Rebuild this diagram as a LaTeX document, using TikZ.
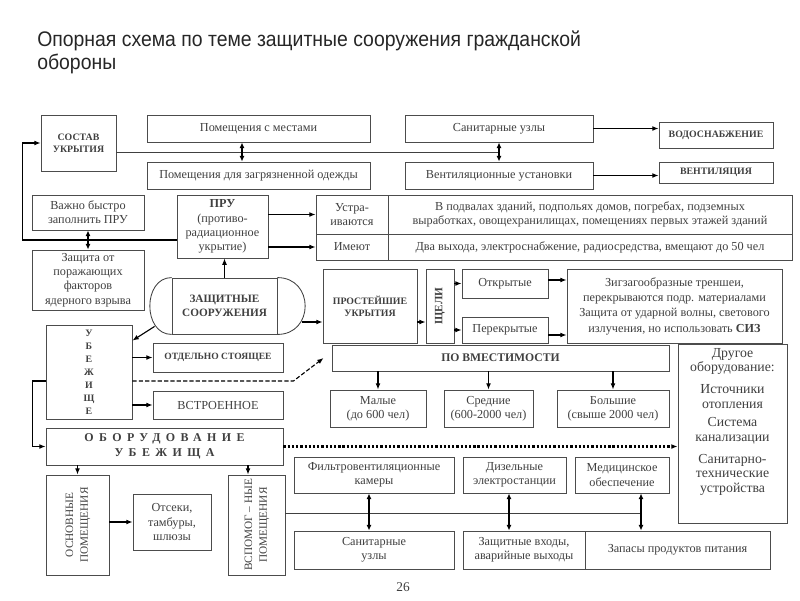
\documentclass[tikz,border=0pt]{standalone}
\usepackage{fontspec}
\setmainfont{Liberation Serif}
\newfontfamily\titlefont[FakeStretch=0.92]{Liberation Sans}
\usetikzlibrary{arrows.meta,calc}

\newcommand{\spaced}[1]{{\addfontfeatures{LetterSpace=45}#1}}

\tikzset{
  box/.style={draw=black!70, line width=0.6pt, align=center, inner sep=1pt, text=black!75},
  wh/.style 2 args={minimum width=#1*0.025cm, minimum height=#2*0.025cm},
  capbold/.style={font=\bfseries\fontsize{7}{8.5}\selectfont},
  link/.style={draw=black!75, line width=0.6pt},
  arr/.style={-{Latex[length=4.5pt,width=3.5pt]}, line width=0.8pt},
  darr/.style={{Latex[length=4pt,width=3.5pt]}-{Latex[length=4pt,width=3.5pt]}, line width=0.8pt},
}

\begin{document}
\begin{tikzpicture}[x=0.025cm, y=-0.025cm, font=\fontsize{8.7}{10.2}\selectfont]
\fill[white] (0,0) rectangle (800,600);
\useasboundingbox (0,0) rectangle (800,600);

% Title
\node[anchor=north west, align=left, inner sep=0pt, text=black!85,
      font=\titlefont\fontsize{15}{15.8}\selectfont] (title) at (37,31)
  {Опорная схема по теме защитные сооружения гражданской\\обороны};

% Composition of the shelter
\node[box, capbold, wh={75}{56}] (sostav) at (78.5,143) {СОСТАВ\\УКРЫТИЯ};
\node[box, wh={223}{27}] (mesta) at (258.5,128.5) {Помещения с местами};
\node[box, wh={223}{27}] (odezhda) at (258.5,175.5) {Помещения для загрязненной одежды};
\node[box, wh={188}{27}] (sanuz) at (499,128.5) {Санитарные узлы};
\node[box, wh={188}{27}] (vent) at (499,175.5) {Вентиляционные установки};
\node[box, capbold, wh={114}{26}] (vodo) at (716,135) {ВОДОСНАБЖЕНИЕ};
\node[box, capbold, wh={114}{21}] (ventil) at (716,172.5) {ВЕНТИЛЯЦИЯ};

% PRU
\node[box, wh={112}{35}] (zapolnit) at (88,212.5) {Важно быстро\\заполнить ПРУ};
\node[box, wh={112}{60}] (zashchita) at (88,280) {Защита от\\поражающих\\факторов\\ядерного взрыва};
\node[box, wh={91}{63}] (pru) at (222.5,226.5) {\textbf{ПРУ}\\(противо-\\радиационное\\укрытие)};
\node[box, wh={72}{39}] (ustr) at (352,214.5) {Устра-\\иваются};
\node[box, wh={404}{39}] (podval) at (590,214.5) {В подвалах зданий, подпольях домов, погребах, подземных\\выработках, овощехранилищах, помещениях первых этажей зданий};
\node[box, wh={72}{26}] (imeyut) at (352,247) {Имеют};
\node[box, wh={404}{26}] (dva) at (590,247) {Два выхода, электроснабжение, радиосредства, вмещают до 50 чел};

% Protective structures
\node[box, wh={105}{56}, font=\bfseries\fontsize{8}{10}\selectfont] (zs) at (224.5,306) {ЗАЩИТНЫЕ\\СООРУЖЕНИЯ};
\draw[link] (zs.north west) .. controls +(-29,0) and +(-29,0) .. (zs.south west);
\draw[link] (zs.north east) .. controls +(37,0) and +(37,0) .. (zs.south east);

% Simplest shelters
\node[box, capbold, wh={94}{74}] (prost) at (370,306) {ПРОСТЕЙШИЕ\\УКРЫТИЯ};
\node[box, wh={28}{74}, font=\bfseries\fontsize{8}{9}\selectfont] (shcheli) at (440,306) {\rotatebox{90}{ЩЕЛИ}};
\node[box, wh={86}{29}] (otkr) at (505,283.5) {Открытые};
\node[box, wh={86}{26}] (perekr) at (505,330) {Перекрытые};
\node[box, wh={215}{74}, font=\fontsize{8.7}{10.9}\selectfont] (zigzag) at (674.5,306) {Зигзагообразные треншеи,\\перекрываются подр. материалами\\Защита от ударной волны, светового\\излучения, но использовать \textbf{СИЗ}};

% Shelter
\node[box, wh={86}{94}, font=\bfseries\fontsize{7}{9.3}\selectfont] (ubezh) at (89,372) {У\\Б\\Е\\Ж\\И\\Щ\\Е};
\node[box, wh={130}{29}, font=\bfseries\fontsize{6.8}{8}\selectfont] (otdel) at (218,357.5) {ОТДЕЛЬНО СТОЯЩЕЕ};
\node[box, wh={130}{28}] (vstr) at (218,405) {ВСТРОЕННОЕ};

% By capacity
\node[box, wh={337}{26}, font=\bfseries\fontsize{8.3}{10}\selectfont] (vmest) at (500.5,358) {ПО ВМЕСТИМОСТИ};
\node[box, wh={96}{37}] (malye) at (378,408.5) {Малые\\(до 600 чел)};
\node[box, wh={89}{37}] (srednie) at (488.5,408.5) {Средние\\(600-2000 чел)};
\node[box, wh={112}{37}] (bolshie) at (613,408.5) {Большие\\(свыше 2000 чел)};

% Other equipment
\node[box, wh={109}{179}] (drugoe) at (732.5,433.5) {};
\node[anchor=north, align=center, inner sep=3pt, text=black!75, font=\fontsize{9.8}{10.4}\selectfont] (drugoetxt) at (drugoe.north)
  {Другое\\оборудование:\\[5pt]Источники\\отопления\\[3pt]Система\\канализации\\[5pt]Санитарно-\\технические\\устройства};

% Equipment of the shelter
\node[box, wh={237}{37}, font=\bfseries\fontsize{8.5}{10.7}\selectfont] (oborud) at (164.5,446.5) {\spaced{ОБОРУДОВАНИЕ}\\\spaced{УБЕЖИЩА}};
\node[box, wh={63}{100}, font=\fontsize{8}{10.5}\selectfont] (osnov) at (77.5,525) {\rotatebox{90}{\begin{tabular}{@{}c@{}}ОСНОВНЫЕ\\ПОМЕЩЕНИЯ\end{tabular}}};
\node[box, wh={78}{56}] (otseki) at (172,522) {Отсеки,\\тамбуры,\\шлюзы};
\node[box, wh={57}{100}, font=\fontsize{8}{10.5}\selectfont] (vspom) at (256.5,525) {\rotatebox{90}{\begin{tabular}{@{}c@{}}ВСПОМОГ – НЫЕ\\ПОМЕЩЕНИЯ\end{tabular}}};
\node[box, wh={160}{36}] (filtr) at (374,475) {Фильтровентиляционные\\камеры};
\node[box, wh={103}{36}] (dizel) at (514.5,475) {Дизельные\\электростанции};
\node[box, wh={94}{36}] (medic) at (622,475) {Медицинское\\обеспечение};
\node[box, wh={160}{38}] (sanuz2) at (374,550) {Санитарные\\узлы};
\node[box, wh={122}{38}] (vhody) at (524,550) {Защитные входы,\\аварийные выходы};
\node[box, wh={185}{38}] (zapasy) at (677.5,550) {Запасы продуктов питания};

\node[text=black!75, font=\fontsize{9.5}{11}\selectfont] (page) at (403,587) {26};

% Connectors
\coordinate (mid) at ($(mesta.south)!0.5!(odezhda.north)$);
\draw[link] (sostav.east |- mid) -- (vent.north |- mid);
\draw[darr] ([xshift=-0.4125cm]mesta.south) -- ([xshift=-0.4125cm]odezhda.north);
\draw[darr] (sanuz.south) -- (vent.north);
\draw[arr] (sanuz.east) -- (sanuz.east -| vodo.west);
\draw[arr] (vent.east) -- (vent.east -| ventil.west);

\draw[darr] (zapolnit.south) -- (zashchita.north);
\draw[arr] ([yshift=-0.3375cm]pru.west) -| ([xshift=-0.45cm]sostav.west) -- (sostav.west);
\draw[arr] (pru.east |- ustr.west) -- (ustr.west);
\draw[arr] (pru.east |- imeyut.west) -- (imeyut.west);
\draw[arr] (zs.north) -- (zs.north |- pru.south);

\draw[arr] ([xshift=0.625cm,yshift=-0.4cm]zs.east) -- ([yshift=-0.4cm]prost.west);
\draw[arr] ([yshift=-0.4cm]prost.east) -- ([yshift=-0.4cm]shcheli.west);
\draw[arr] (shcheli.east |- otkr.west) -- (otkr.west);
\draw[arr] (shcheli.east |- perekr.west) -- (perekr.west);
\draw[arr] ([yshift=0.0875cm]otkr.east) -- ([yshift=0.0875cm]otkr.east -| zigzag.west);
\draw[arr] ([yshift=-0.125cm]perekr.east) -- ([yshift=-0.125cm]perekr.east -| zigzag.west);

\draw[arr] ([xshift=-0.425cm,yshift=0.2cm]zs.south west) -- ([yshift=-0.4cm]ubezh.north east);
\draw[arr] (ubezh.east |- otdel.west) -- (otdel.west);
\draw[arr] (ubezh.east |- vstr.west) -- (vstr.west);
\draw[arr, dash pattern=on 3pt off 1.5pt] ([yshift=-0.225cm]ubezh.east) -- ++(161,0) -- ([xshift=-0.2cm]vmest.west);
\draw[arr] ([yshift=-0.225cm]ubezh.west) -| ([xshift=-0.325cm]oborud.west) -- (oborud.west);

\foreach \b in {malye, srednie, bolshie}
  \draw[arr] (vmest.south -| \b.north) -- (\b.north);

\draw[arr] (oborud.south -| osnov.north) -- (osnov.north);
\draw[arr] ([xshift=-0.2125cm]vspom.north |- oborud.south) -- ([xshift=-0.2125cm]vspom.north);
\draw[arr] (osnov.east |- otseki.west) -- (otseki.west);
\draw[arr, line width=1.6pt, dash pattern=on 1.6pt off 1.4pt] (oborud.east) -- (oborud.east -| drugoe.west);

\draw[link] ([yshift=0.3cm]vspom.east) -- ++(356,0);
\draw[darr] ([xshift=-0.125cm]filtr.south) -- ([xshift=-0.125cm]sanuz2.north);
\draw[darr] ([xshift=-0.1375cm]dizel.south) -- ([xshift=-0.1375cm]dizel.south |- vhody.north);
\draw[darr] ([xshift=0.475cm]medic.south) -- ([xshift=0.475cm]medic.south |- zapasy.north);
\end{tikzpicture}
\end{document}
